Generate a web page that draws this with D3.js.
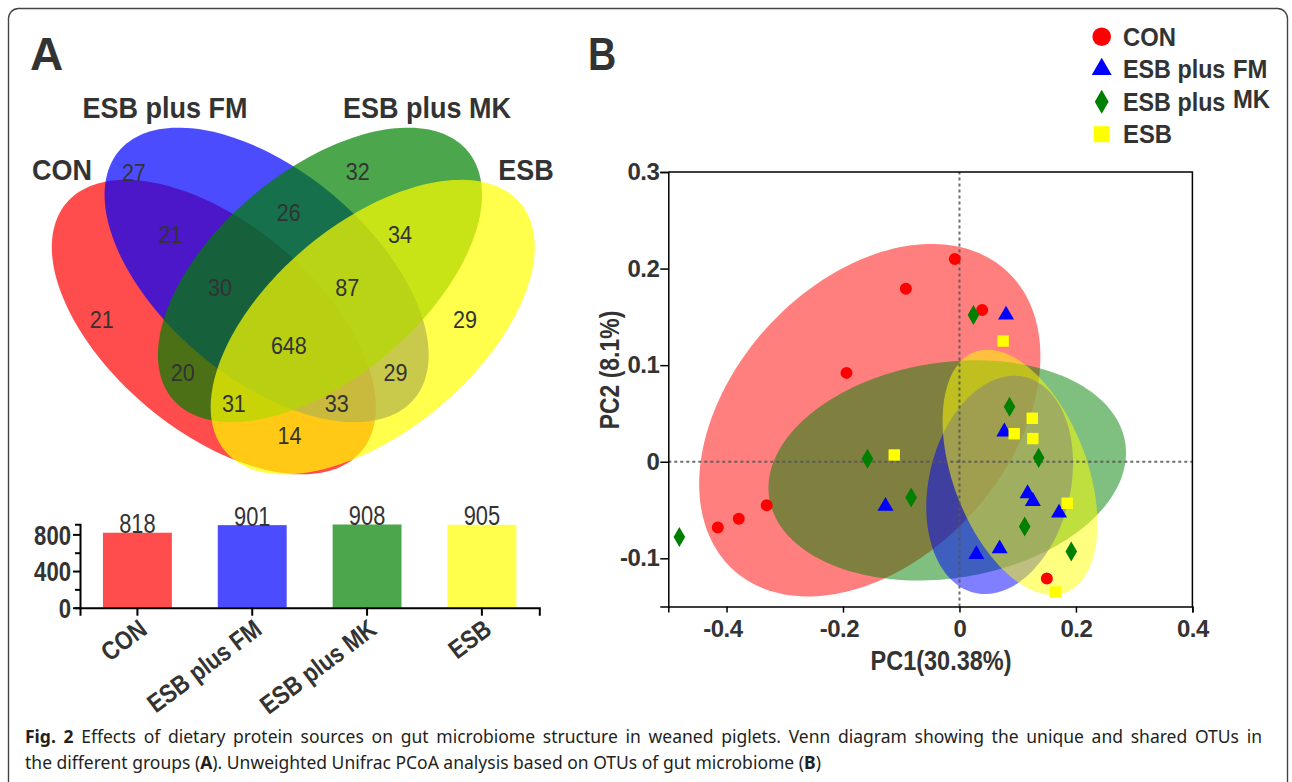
<!DOCTYPE html>
<html><head><meta charset="utf-8">
<script src="https://cdn.jsdelivr.net/npm/d3@7"></script>
<style>body{margin:0;background:#fff;}svg{display:block;}</style>
</head><body>
<svg id="fig" width="1292" height="782"></svg>
<script>
// ---------------- DATA ----------------
const groups = ["CON", "ESB plus FM", "ESB plus MK", "ESB"];
const groupColors = ["#ff0000", "#0000ff", "#008000", "#ffff00"];
const otuTotals = [818, 901, 908, 905];
const barTickValues = [0, 200, 400, 600, 800];
const barTickLabels = ["0", "", "400", "", "800"];

// Venn region counts and the sets that form each region
const vennCounts  = [27, 21, 21, 30, 26, 32, 34, 87, 29, 648, 20, 29, 31, 33, 14];
const vennRegions = ["FM", "CON&FM", "CON", "CON&FM&MK", "FM&MK", "MK", "MK&ESB", "FM&MK&ESB",
                     "ESB", "ALL", "CON&MK", "FM&ESB", "CON&MK&ESB", "CON&FM&ESB", "CON&ESB"];

// PCoA scores (PC1, PC2) per group
const conPC1 = [-0.008, -0.092, 0.039, -0.194, -0.331, -0.379, -0.415, 0.150];
const conPC2 = [0.210, 0.179, 0.157, 0.092, -0.045, -0.059, -0.068, -0.121];
const fmPC1  = [0.080, 0.077, -0.127, 0.117, 0.126, 0.171, 0.069, 0.029];
const fmPC2  = [0.152, 0.031, -0.046, -0.033, -0.041, -0.053, -0.090, -0.096];
const mkPC1  = [0.024, 0.086, -0.158, 0.136, -0.083, 0.112, 0.192, -0.481];
const mkPC2  = [0.152, 0.057, 0.003, 0.004, -0.037, -0.067, -0.093, -0.078];
const esbPC1 = [0.075, 0.125, 0.094, 0.126, -0.112, 0.185, 0.165];
const esbPC2 = [0.125, 0.045, 0.029, 0.024, 0.007, -0.043, -0.135];

// group ellipses in PCoA space (CON, FM, MK, ESB)
const ellCenterPC1 = [-0.154, 0.069, -0.021, 0.104];
const ellCenterPC2 = [0.043, -0.024, -0.009, -0.011];
const ellHalfPC1   = [0.293, 0.126, 0.307, 0.133];
const ellHalfPC2   = [0.1825, 0.113, 0.114, 0.127];
const ellCorr      = [0.362, 0.20, 0.16, -0.42];

const xTicks = [-0.4, -0.2, 0, 0.2, 0.4];
const yTicks = [-0.1, 0, 0.1, 0.2, 0.3];

// ---------------- LAYOUT (Venn unit space, like VennDiagram) ----------------
const vennEllipse = { // centre x, centre y, semi-axes, rotation (deg) in unit space
  cx: [0.357, 0.452, 0.548, 0.643], cy: [0.470, 0.564, 0.564, 0.470],
  a: 0.347, b: 0.187, rot: [140, 140, 40, 40]
};
const vennLabelU = [0.213, 0.279, 0.155, 0.368, 0.492, 0.616, 0.692, 0.597, 0.809, 0.492, 0.301, 0.684, 0.393, 0.578, 0.493];
const vennLabelV = [0.748, 0.638, 0.484, 0.541, 0.676, 0.750, 0.638, 0.541, 0.484, 0.437, 0.389, 0.389, 0.333, 0.333, 0.276];

const FONT = "'Liberation Sans', Arial, sans-serif";
const TXT = "#333333";
const svg = d3.select("#fig");

function ctext(g, x, y, str, o = {}) {
  const t = g.append("text")
    .attr("transform", `translate(${x},${y})` + (o.rotate ? ` rotate(${o.rotate})` : "") + ` scale(${o.sx || 1},1)`)
    .attr("text-anchor", o.anchor || "middle")
    .attr("font-family", o.family || FONT)
    .attr("font-size", o.size || 20)
    .attr("font-weight", o.weight || "normal")
    .attr("fill", o.fill || TXT)
    .text(str);
  return t;
}

// outer border
svg.append("rect").attr("x", 8.5).attr("y", 8.5).attr("width", 1279).attr("height", 800)
  .attr("rx", 10).attr("fill", "none").attr("stroke", "#444").attr("stroke-width", 1.4);

// ---------------- PANEL A: Venn ----------------
const vx = d3.scaleLinear([0, 1], [15.55, 571.05]);
const vy = d3.scaleLinear([0, 1], [588.2, 32.7]);
const venn = svg.append("g");
const tSteps = d3.range(0, 2 * Math.PI, Math.PI / 90);
for (let i = 0; i < 4; i++) {
  const phi = vennEllipse.rot[i] * Math.PI / 180;
  const pts = tSteps.map(t => {
    const u = vennEllipse.cx[i] + vennEllipse.a * Math.cos(t) * Math.cos(phi) - vennEllipse.b * Math.sin(t) * Math.sin(phi);
    const v = vennEllipse.cy[i] + vennEllipse.a * Math.cos(t) * Math.sin(phi) + vennEllipse.b * Math.sin(t) * Math.cos(phi);
    return [vx(u), vy(v)];
  });
  venn.append("path").attr("d", d3.line().curve(d3.curveLinearClosed)(pts))
    .attr("fill", groupColors[i]).attr("fill-opacity", 0.7);
}
vennCounts.forEach((c, i) => {
  ctext(venn, vx(vennLabelU[i]), vy(vennLabelV[i]) + 8.8, c, {size: 24.5, sx: 0.88});
});
// set names
ctext(venn, 62, 180, groups[0], {size: 30, weight: "bold", sx: 0.9});
ctext(venn, 165, 118, groups[1], {size: 30, weight: "bold", sx: 0.9});
ctext(venn, 427, 118, groups[2], {size: 30, weight: "bold", sx: 0.9});
ctext(venn, 526, 180, groups[3], {size: 30, weight: "bold", sx: 0.9});
ctext(svg, 30, 70, "A", {size: 46, weight: "bold", anchor: "start"});

// ---------------- PANEL A: bar chart ----------------
const bx = d3.scaleBand(groups, [80, 539.3]).paddingInner(0.4).paddingOuter(0.2);
const by = d3.scaleLinear([0, 910], [607.7, 524.3]);
const bars = svg.append("g");
bars.selectAll("rect.bar").data(otuTotals).join("rect")
  .attr("x", (d, i) => bx(groups[i])).attr("width", bx.bandwidth())
  .attr("y", d => by(d)).attr("height", d => by(0) - by(d))
  .attr("fill", (d, i) => groupColors[i]).attr("fill-opacity", 0.7);
otuTotals.forEach((d, i) => {
  ctext(bars, bx(groups[i]) + bx.bandwidth() / 2, by(d) + 0.5, d, {size: 27, sx: 0.81});
});
const byAxis = bars.append("g").attr("transform", "translate(80,0)")
  .call(d3.axisLeft(by).tickValues(barTickValues).tickSize(7).tickSizeOuter(5).tickPadding(3)
    .tickFormat((d, i) => barTickLabels[i]));
byAxis.selectAll(".tick line").attr("x2", (d, i) => barTickLabels[i] ? -7 : -5);
const bxAxis = bars.append("g").attr("transform", "translate(0,607.7)")
  .call(d3.axisBottom(bx).tickSize(8).tickSizeOuter(8));
[byAxis, bxAxis].forEach(a => {
  a.select(".domain").attr("stroke", "#000").attr("stroke-width", 2);
  a.selectAll(".tick line").attr("stroke", "#000").attr("stroke-width", 2);
});
byAxis.selectAll(".tick text").attr("font-family", FONT).attr("font-size", 28).attr("font-weight", "bold")
  .attr("fill", TXT).attr("x", null).attr("dy", "0.35em")
  .attr("transform", "translate(-9,0) scale(0.79,1)");
bxAxis.selectAll(".tick text").attr("font-family", FONT).attr("font-size", 26).attr("font-weight", "bold")
  .attr("fill", TXT).attr("y", null).attr("dy", "0.72em").attr("text-anchor", "end")
  .attr("transform", "translate(0,10) rotate(-37) scale(0.85,1)");

// ---------------- PANEL B: PCoA ----------------
const xS = d3.scaleLinear([-0.5, 0.4], [668.3, 1192.4]);
const yS = d3.scaleLinear([-0.15, 0.3], [606.6, 172]);
const pb = svg.append("g");
const drawOrder = [0, 2, 1, 3];
drawOrder.forEach(i => {
  const r = ellCorr[i], s = Math.sqrt(1 - r * r);
  const pts = tSteps.map(t => [
    xS(ellCenterPC1[i] + ellHalfPC1[i] * Math.cos(t)),
    yS(ellCenterPC2[i] + ellHalfPC2[i] * (r * Math.cos(t) + s * Math.sin(t)))
  ]);
  pb.append("path").attr("d", d3.line().curve(d3.curveLinearClosed)(pts))
    .attr("fill", groupColors[i]).attr("fill-opacity", 0.5);
});
// zero reference lines
pb.append("line").attr("x1", xS(0)).attr("x2", xS(0)).attr("y1", yS(-0.15)).attr("y2", yS(0.3))
  .attr("stroke", "#555").attr("stroke-width", 2).attr("stroke-dasharray", "3,3").attr("opacity", 0.85);
pb.append("line").attr("x1", xS(-0.5)).attr("x2", xS(0.4)).attr("y1", yS(0)).attr("y2", yS(0))
  .attr("stroke", "#555").attr("stroke-width", 2).attr("stroke-dasharray", "3,3").attr("opacity", 0.85);
// frame (top/right)
pb.append("path").attr("d", `M${xS(-0.5)},${yS(0.3)}H${xS(0.4)}V${yS(-0.15)}`)
  .attr("fill", "none").attr("stroke", "#000").attr("stroke-width", 1.5);

const symTypes = [d3.symbolCircle, d3.symbolTriangle, d3.symbolDiamond, d3.symbolSquare];
const symSizes = [113, 111, 116, 130];
const pcX = [conPC1, fmPC1, mkPC1, esbPC1];
const pcY = [conPC2, fmPC2, mkPC2, esbPC2];
[0, 1, 2, 3].forEach(g => {
  pcX[g].forEach((v, j) => {
    pb.append("path").attr("d", d3.symbol(symTypes[g], symSizes[g])())
      .attr("transform", `translate(${xS(v)},${yS(pcY[g][j])})`)
      .attr("fill", groupColors[g]);
  });
});

const fmt = d => d === 0 ? "0" : d.toFixed(1);
const xAx = pb.append("g").attr("transform", `translate(0,${yS(-0.15)})`)
  .call(d3.axisBottom(xS).tickValues(xTicks).tickSize(6).tickSizeOuter(6).tickPadding(7).tickFormat(fmt));
const yAx = pb.append("g").attr("transform", `translate(${xS(-0.5)},0)`)
  .call(d3.axisLeft(yS).tickValues(yTicks).tickSize(8).tickSizeOuter(8).tickPadding(1).tickFormat(fmt));
[xAx, yAx].forEach(a => {
  a.select(".domain").attr("stroke", "#000").attr("stroke-width", 1.5);
  a.selectAll(".tick line").attr("stroke", "#000").attr("stroke-width", 1.5);
  a.selectAll(".tick text").attr("font-family", FONT).attr("font-size", 24).attr("font-weight", "bold")
    .attr("fill", TXT).attr("letter-spacing", "-0.5px");
});
xAx.selectAll(".tick text").attr("dx", d => d < 0 ? "-0.17em" : null);

ctext(pb, 941, 670, "PC1(30.38%)", {size: 27, weight: "bold", sx: 0.87});
ctext(pb, 619, 370, "PC2 (8.1%)", {size: 27, weight: "bold", sx: 0.85, rotate: -90});
ctext(svg, 588, 70, "B", {size: 46, weight: "bold", anchor: "start", sx: 0.85});

// legend
const legSizes = [272, 173, 166, 256];
groups.forEach((g, i) => {
  const yb = 45.7 + i * 32.5;
  pb.append("path").attr("d", d3.symbol(symTypes[i], legSizes[i])())
    .attr("transform", `translate(1101.7,${yb - 9})`).attr("fill", groupColors[i]);
  const parts = g.split(" plus ");
  if (parts.length === 1) {
    ctext(pb, 1123, yb, g, {size: 26.5, weight: "bold", sx: 0.9, anchor: "start"});
  } else {
    ctext(pb, 1123, yb, parts[0] + " plus", {size: 26.5, weight: "bold", sx: 0.88, anchor: "start"});
    ctext(pb, 1233, yb - (i === 2 ? 3 : 0), parts[1], {size: 26.5, weight: "bold", sx: 0.9, anchor: "start"});
  }
});

// ---------------- caption ----------------
const CAPF = "'Noto Sans', sans-serif";
const cap1 = svg.append("text").attr("x", 25).attr("y", 743).attr("font-family", CAPF)
  .attr("font-size", 17.5).attr("fill", "#231f20");
cap1.append("tspan").attr("font-weight", "bold").text("Fig. 2");
cap1.append("tspan").text(" Effects of dietary protein sources on gut microbiome structure in weaned piglets. Venn diagram showing the unique and shared OTUs in");
// justify first line to the text block width
const line1Len = cap1.node().getComputedTextLength();
const nSpaces = (cap1.text().match(/ /g) || []).length;
cap1.attr("word-spacing", Math.max(0, (1262 - 25 - line1Len) / nSpaces));
const cap2 = svg.append("text").attr("x", 25).attr("y", 769).attr("font-family", CAPF)
  .attr("font-size", 17.5).attr("fill", "#231f20");
cap2.append("tspan").text("the different groups (");
cap2.append("tspan").attr("font-weight", "bold").text("A");
cap2.append("tspan").text("). Unweighted Unifrac PCoA analysis based on OTUs of gut microbiome (");
cap2.append("tspan").attr("font-weight", "bold").text("B");
cap2.append("tspan").text(")");
</script>
</body></html>
